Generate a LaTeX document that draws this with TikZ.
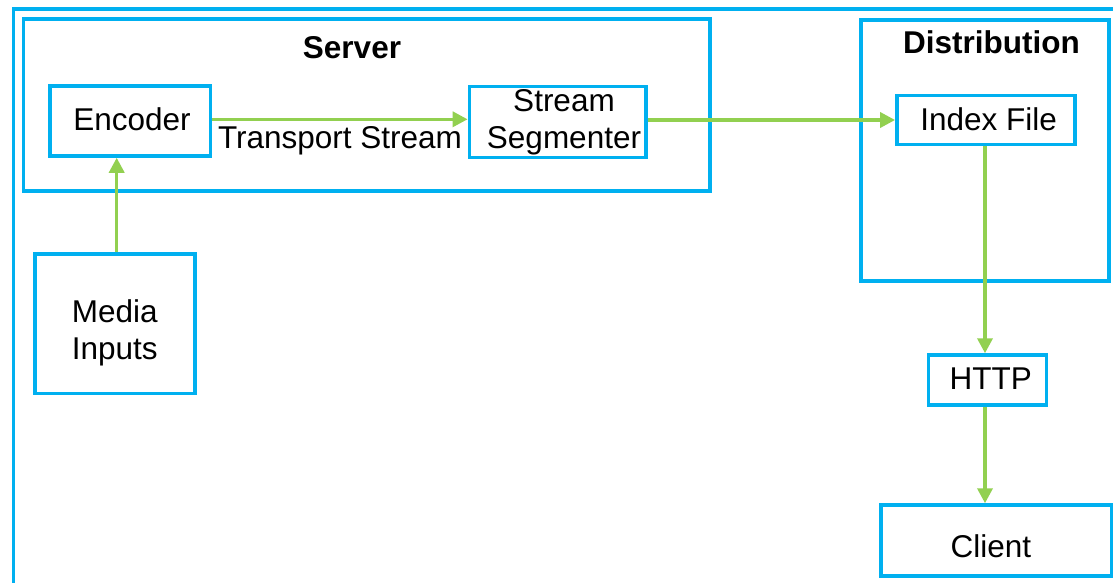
\documentclass[tikz,border=0pt]{standalone}
\usepackage{fontspec}
\setmainfont{Liberation Sans}
\usetikzlibrary{arrows.meta}
\definecolor{frameblue}{RGB}{0,176,240}
\definecolor{flowgreen}{RGB}{146,208,80}
\tikzset{
  txt/.style={font=\fontsize{31.5}{37}\selectfont, text height=22.6pt, text depth=0pt,
    inner sep=0pt, align=center, text=black},
  title/.style={txt, font=\fontsize{31.5}{37}\selectfont\bfseries},
  box/.style={draw=frameblue, line width=3.5pt, fill=white, rectangle, inner sep=0pt},
  flow/.style={draw=flowgreen, line width=3.5pt,
    -{Triangle[length=15pt,width=15pt]}, fill=flowgreen},
}
\begin{document}
\begin{tikzpicture}[x=1pt,y=-1pt]
  \useasboundingbox (0,0) rectangle (1113,583);
  \fill[white] (0,0) rectangle (1113,583);
  \clip (0,0) rectangle (1113,583);

  % outer frame, running past the right and bottom edges
  \node[box, fill=none, minimum width=1130pt, minimum height=600pt, anchor=north west]
    (frame) at (11.7,7.3) {};

  % containers
  \node[box, fill=none, minimum width=686.7pt, minimum height=172pt] (server) at (366.7,105) {};
  \node[title] (servertitle) at (352,47) {Server};
  \node[box, fill=none, minimum width=248pt, minimum height=261pt] (dist) at (985,150.5) {};
  \node[title] (disttitle) at (991.5,42) {Distribution};

  % components
  \node[box, minimum width=160.5pt, minimum height=70pt,
    label={[txt, xshift=2pt, yshift=2pt]center:Encoder}] (enc) at (130,121) {};
  \node[box, minimum width=176.7pt, minimum height=71pt,
    label={[txt, xshift=6.3pt, yshift=-15.3pt]center:Stream\\Segmenter}] (seg) at (557.7,122) {};
  \node[box, minimum width=178.3pt, minimum height=48.6pt,
    label={[txt, xshift=2.7pt, yshift=0.8pt]center:Index File}] (idx) at (986,120) {};
  \node[box, minimum width=160pt, minimum height=139.3pt,
    label={[txt, xshift=-0.3pt, yshift=-24.6pt]center:Media\\Inputs}] (media) at (115,323.7) {};
  \node[box, minimum width=118pt, minimum height=50pt,
    label={[txt, xshift=3.1pt, yshift=2pt]center:HTTP}] (http) at (987.7,380) {};
  \node[box, minimum width=230.7pt, minimum height=71pt,
    label={[txt, xshift=-5.5pt, yshift=-5.5pt]center:Client}] (client) at (996.3,540.5) {};

  % data flow
  \draw[flow] ([yshift=1.7pt]enc.east) -- ([yshift=1.7pt]enc.east -| seg.west);
  \node[txt] (tslabel) at (340,136.7) {Transport Stream};
  \draw[flow] (seg.east |- idx.west) -- (idx.west);
  \draw[flow] ([xshift=1.7pt]media.north) -- ([xshift=1.7pt]media.north |- enc.south);
  \draw[flow] ([xshift=-1pt]idx.south) -- ([xshift=-1pt]idx.south |- http.north);
  \draw[flow] ([xshift=-1pt]idx.south |- http.south) -- ([xshift=-1pt]idx.south |- client.north);
\end{tikzpicture}
\end{document}
